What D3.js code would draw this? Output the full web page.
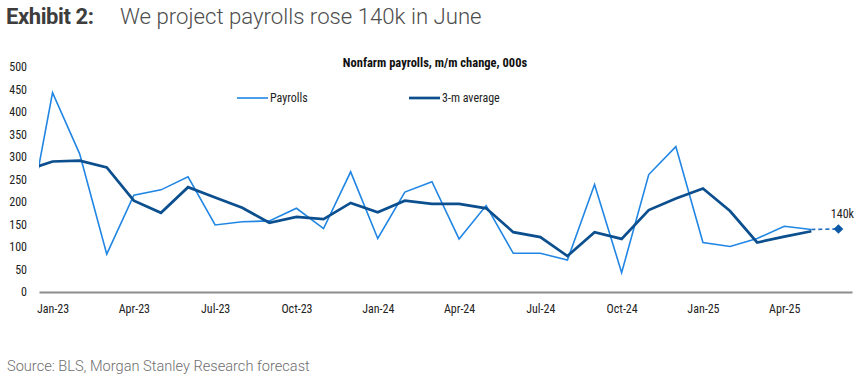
<!DOCTYPE html>
<html>
<head>
<meta charset="utf-8">
<script src="https://cdn.jsdelivr.net/npm/d3@7"></script>
<style>
  body { margin: 0; background: white; }
  .cond { font-family: "Roboto Condensed", "Liberation Sans Narrow", "DejaVu Sans Condensed", sans-serif; }
</style>
</head>
<body>
<div id="container"></div>
<script>
// months shown on the category axis (Dec-22 sits half outside the plot, clipped)
const months = ["Dec-22",
    "Jan-23", "Feb-23", "Mar-23", "Apr-23", "May-23", "Jun-23", "Jul-23", "Aug-23", "Sep-23", "Oct-23", "Nov-23", "Dec-23",
    "Jan-24", "Feb-24", "Mar-24", "Apr-24", "May-24", "Jun-24", "Jul-24", "Aug-24", "Sep-24", "Oct-24", "Nov-24", "Dec-24",
    "Jan-25", "Feb-25", "Mar-25", "Apr-25", "May-25", "Jun-25"]
const payrolls = [121,
    443, 307, 84, 215, 227, 256, 149, 156, 158, 186, 141, 267,
    119, 222, 245, 118, 192, 86, 86, 71, 239, 43, 261, 323,
    110, 101, 119, 146, 139]
const avg3m = [270,
    290, 292, 277, 203, 176, 233, 210, 187, 154, 167, 162, 198,
    177, 203, 196, 196, 186, 133, 122, 80, 133, 118, 182, 208,
    230, 180, 110, 123, 135]
const forecast = { from: "May-25", to: "Jun-25", value: 140, label: "140k" }
const tickMonths = ["Jan-23", "Apr-23", "Jul-23", "Oct-23", "Jan-24", "Apr-24", "Jul-24", "Oct-24", "Jan-25", "Apr-25"]
const yTicks = [0, 50, 100, 150, 200, 250, 300, 350, 400, 450, 500]

const w = 858
const h = 381
const lightBlue = "#2186e3"
const darkBlue = "#0c4f8f"

const svg = d3.select("#container")
    .append("svg")
    .attr("width", w)
    .attr("height", h)

svg.append("text")
    .attr("x", 6)
    .attr("y", 24)
    .style("font-family", "Roboto, sans-serif")
    .style("font-size", "22px")
    .style("font-weight", "700")
    .style("letter-spacing", "-0.4px")
    .attr("fill", "#3d3d3d")
    .text("Exhibit 2:")
svg.append("text")
    .attr("x", 120)
    .attr("y", 24)
    .style("font-family", "Roboto, sans-serif")
    .style("font-size", "22.2px")
    .style("font-weight", "300")
    .attr("fill", "#4d4d4d")
    .text("We project payrolls rose 140k in June")

svg.append("text")
    .attr("class", "cond")
    .attr("x", 435)
    .attr("y", 67)
    .attr("text-anchor", "middle")
    .style("font-size", "12.5px")
    .style("font-weight", "700")
    .attr("fill", "#111")
    .text("Nonfarm payrolls, m/m change, 000s")

const xScale = d3.scaleLinear()
    .domain([0.5, months.length - 0.5])
    .range([39, 852])
const yScale = d3.scaleLinear()
    .domain([0, 500])
    .range([292, 67])
const xOf = (m) => xScale(months.indexOf(m))

// y axis labels only, no line or ticks
const yAxis = d3.axisLeft(yScale)
    .tickValues(yTicks)
    .tickSize(0)
    .tickPadding(0)
const gy = svg.append("g")
    .attr("class", "cond")
    .attr("transform", "translate(27, 0)")
    .call(yAxis)
gy.select(".domain").remove()
gy.selectAll("text")
    .style("font-size", "12px")
    .style("font-family", null)
    .attr("fill", "#222")

const xAxis = d3.axisBottom(xScale)
    .tickValues(tickMonths.map((m) => months.indexOf(m)))
    .tickFormat((i) => months[i])
    .tickSize(0)
    .tickPadding(12)
const gx = svg.append("g")
    .attr("class", "cond")
    .attr("transform", "translate(0, 292)")
    .call(xAxis)
gx.select(".domain")
    .attr("stroke", "#8c8c8c")
    .attr("stroke-width", 2)
gx.selectAll("text")
    .style("font-size", "12px")
    .style("font-family", null)
    .attr("fill", "#222")

svg.append("clipPath")
    .attr("id", "plot")
    .append("rect")
    .attr("x", 39)
    .attr("y", 40)
    .attr("width", 813)
    .attr("height", 252)

const line = d3.line()
    .x((d, i) => xScale(i))
    .y((d) => yScale(d))

svg.append("path")
    .datum(payrolls)
    .attr("clip-path", "url(#plot)")
    .attr("d", line)
    .attr("fill", "none")
    .attr("stroke", lightBlue)
    .attr("stroke-width", 1.6)

svg.append("path")
    .datum(avg3m)
    .attr("clip-path", "url(#plot)")
    .attr("d", line)
    .attr("fill", "none")
    .attr("stroke", darkBlue)
    .attr("stroke-width", 2.7)

// forecast: dashed step from last actual to June projection
svg.append("line")
    .attr("x1", xOf(forecast.from))
    .attr("y1", yScale(payrolls[months.indexOf(forecast.from)]))
    .attr("x2", xOf(forecast.to))
    .attr("y2", yScale(forecast.value))
    .attr("stroke", "#1f6cc0")
    .attr("stroke-width", 1.6)
    .attr("stroke-dasharray", "4,3")
svg.append("path")
    .attr("d", d3.symbol(d3.symbolDiamond2, 60))
    .attr("transform", `translate(${xOf(forecast.to)}, ${yScale(forecast.value)})`)
    .attr("fill", "#0d59a6")
svg.append("text")
    .attr("class", "cond")
    .attr("x", xOf(forecast.to) + 4)
    .attr("y", yScale(forecast.value) - 11)
    .attr("text-anchor", "middle")
    .style("font-size", "12px")
    .attr("fill", "#222")
    .text(forecast.label)

// legend
const legend = [
    { name: "Payrolls", color: lightBlue, width: 1.6, x: 237 },
    { name: "3-m average", color: darkBlue, width: 2.7, x: 409 },
]
legend.forEach((d) => {
    svg.append("line")
        .attr("x1", d.x)
        .attr("x2", d.x + 31)
        .attr("y1", 98)
        .attr("y2", 98)
        .attr("stroke", d.color)
        .attr("stroke-width", d.width)
    svg.append("text")
        .attr("class", "cond")
        .attr("x", d.x + 33)
        .attr("y", 102)
        .style("font-size", "12px")
        .attr("fill", "#222")
        .text(d.name)
})

svg.append("text")
    .attr("x", 7)
    .attr("y", 371)
    .style("font-family", "Roboto, sans-serif")
    .style("font-size", "14.6px")
    .style("font-weight", "300")
    .attr("fill", "#6e6e6e")
    .text("Source: BLS, Morgan Stanley Research forecast")
</script>
</body>
</html>
